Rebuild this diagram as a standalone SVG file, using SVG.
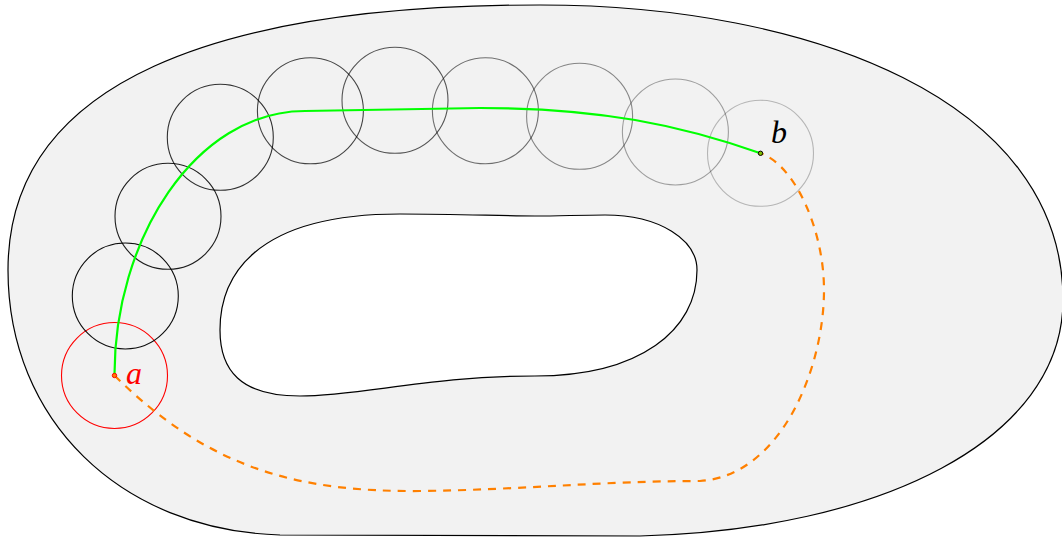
<svg xmlns="http://www.w3.org/2000/svg" width="1062" height="537" viewBox="0 0 1062 537">
<style>
.region{fill:#f2f2f2;stroke:#000;stroke-width:1.2;fill-rule:evenodd}
.disk{fill:none;stroke:#000;stroke-width:1.1}
.lbl{font-family:"Liberation Serif","DejaVu Serif",serif;font-style:italic;font-size:32px}
</style>
<rect width="1062" height="537" fill="#fff"/>
<g id="region">
<path class="region" d="M 540,5 C 810,5 1063,100 1063,300 C 1063,440 880,530 640,536 L 280,535 C 120,530 8,420 8,270 C 8,80 220,5 540,5 Z M 300,396 C 240,396 220,370 220,330 C 220,280 250,214 400,214 C 460,214 500,216 535,216 C 560,216 580,215 605,215 C 660,215 697,240 697,270 C 697,330 640,376 535,376 C 430,376 360,396 300,396 Z"/>
</g>
<g id="disks">
<circle id="disk-a" cx="114.5" cy="375.5" r="53" fill="none" stroke="#ff0000" stroke-width="1.1"/>
<circle id="disk-2" class="disk" cx="125.3" cy="296" r="53" stroke-opacity="0.95"/>
<circle id="disk-3" class="disk" cx="168" cy="216.3" r="53" stroke-opacity="0.88"/>
<circle id="disk-4" class="disk" cx="220.3" cy="137.3" r="53" stroke-opacity="0.8"/>
<circle id="disk-5" class="disk" cx="310.4" cy="110.8" r="53" stroke-opacity="0.72"/>
<circle id="disk-6" class="disk" cx="395" cy="100.3" r="53" stroke-opacity="0.65"/>
<circle id="disk-7" class="disk" cx="485.4" cy="110.8" r="53" stroke-opacity="0.55"/>
<circle id="disk-8" class="disk" cx="579.6" cy="116.3" r="53" stroke-opacity="0.45"/>
<circle id="disk-9" class="disk" cx="675.4" cy="132" r="53" stroke-opacity="0.35"/>
<circle id="disk-b" class="disk" cx="760.5" cy="153.3" r="53" stroke-opacity="0.25"/>
</g>
<g id="connectors">
<path id="path-green" d="M 114.5,375.5 C 114,240 195,111 305,111 L 480,108 C 600,108 680,125 760.5,153.3" fill="none" stroke="#00ff00" stroke-width="2.2"/>
<path id="path-orange" d="M 114.5,375.5 C 210,470 300,492 420,491 C 520,490 600,481 700,481 C 780,476 824,370 824,290 C 824,230 795,165 760.5,153.3" fill="none" stroke="#ff8000" stroke-width="2.2" stroke-dasharray="8 7"/>
</g>
<g id="point-a">
<circle cx="114.5" cy="375.5" r="2.2" fill="#ff8000" stroke="#ff0000" stroke-width="1"/>
<text class="lbl" x="126" y="383.5" fill="#ff0000">a</text>
</g>
<g id="point-b">
<circle cx="760.5" cy="153.3" r="2.2" fill="#80c000" stroke="#000" stroke-width="1"/>
<text class="lbl" x="771" y="142.5" fill="#000">b</text>
</g>
</svg>
